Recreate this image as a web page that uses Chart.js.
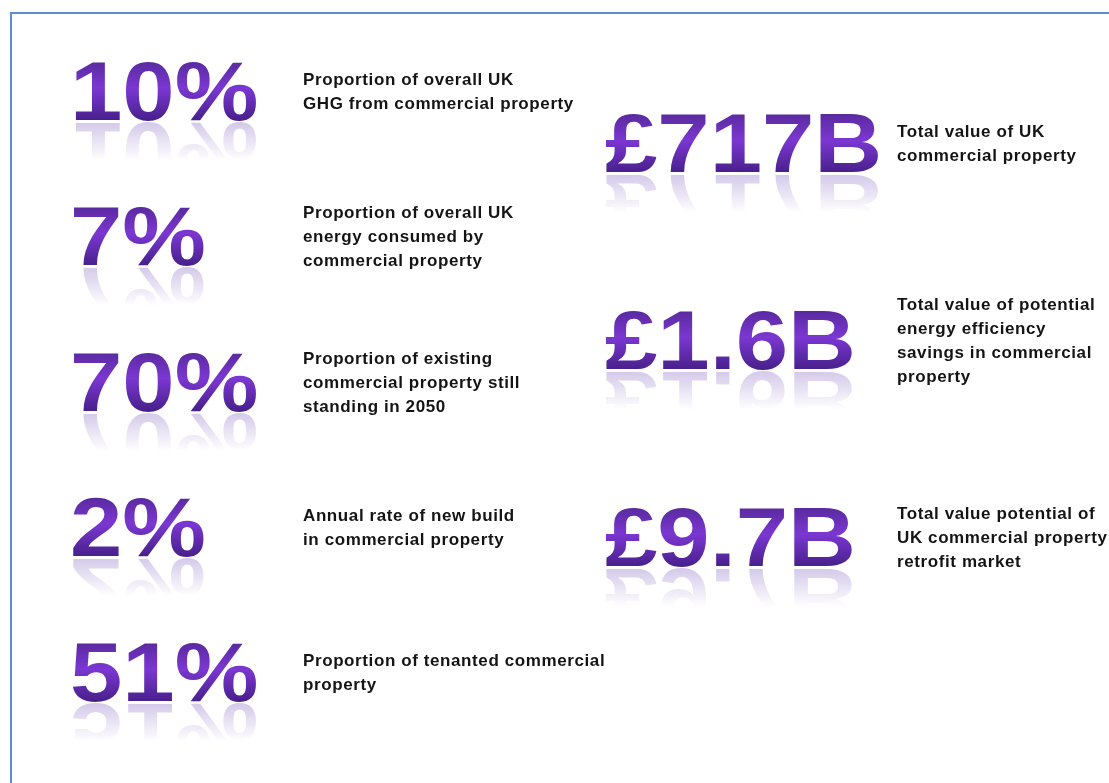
<!DOCTYPE html>
<html>
<head>
<meta charset="utf-8">
<script src="https://cdn.jsdelivr.net/npm/chart.js@4"></script>
<style>
  html, body { margin: 0; padding: 0; background: #fff; overflow: hidden; }
  #wrap { position: relative; width: 1109px; height: 783px; }
  #frame {
    position: absolute; left: 10px; top: 12px; width: 1200px; height: 900px;
    border: 2px solid #5b8dd3; box-sizing: border-box;
  }
  canvas { position: absolute; left: 0; top: 0; }
</style>
</head>
<body>
<div id="wrap">
  <div id="frame"></div>
  <canvas id="stats" width="1109" height="783"></canvas>
</div>
<script>
// left column: headline figure + description lines
const leftFigures = ['10%', '7%', '70%', '2%', '51%'];
const leftNotes = [
  ['Proportion of overall UK', 'GHG from commercial property'],
  ['Proportion of overall UK', 'energy consumed by', 'commercial property'],
  ['Proportion of existing', 'commercial property still', 'standing in 2050'],
  ['Annual rate of new build', 'in commercial property'],
  ['Proportion of tenanted commercial', 'property']
];

// right column
const rightFigures = ['£717B', '£1.6B', '£9.7B'];
const rightNotes = [
  ['Total value of UK', 'commercial property'],
  ['Total value of potential', 'energy efficiency', 'savings in commercial', 'property'],
  ['Total value potential of', 'UK commercial property', 'retrofit market']
];

const figFont = 'bold 84px "Liberation Sans"';
const figStretch = 1.12;
const noteFont = 'bold 17px "Liberation Sans"';

const statsPlugin = {
  id: 'stats',
  afterDatasetsDraw(chart) {
    const ctx = chart.ctx;
    chart.data.datasets.forEach((ds, di) => {
      const meta = chart.getDatasetMeta(di);
      meta.data.forEach((pt, i) => {
        const x = pt.x, base = pt.y;
        const fig = ds.figures[i];
        ctx.save();
        ctx.font = figFont;
        ctx.textBaseline = 'alphabetic';
        ctx.textAlign = 'left';
        const cap = ctx.measureText('H').actualBoundingBoxAscent;
        // figure with purple gradient
        ctx.save();
        ctx.translate(x, base);
        ctx.scale(figStretch, 1);
        let g = ctx.createLinearGradient(0, -cap, 0, 0);
        g.addColorStop(0, '#5a2aa0');
        g.addColorStop(0.45, '#7b37d2');
        g.addColorStop(1, '#48208c');
        ctx.fillStyle = g;
        ctx.fillText(fig, 0, 0);
        ctx.restore();
        // faded reflection
        ctx.save();
        ctx.translate(x, base + 3);
        ctx.scale(figStretch, -1);
        let r = ctx.createLinearGradient(0, 0, 0, -cap * 0.65);
        r.addColorStop(0, 'rgba(115,80,185,0.3)');
        r.addColorStop(1, 'rgba(115,80,185,0)');
        ctx.fillStyle = r;
        ctx.fillText(fig, 0, 0);
        ctx.restore();
        // description, centred on the figure
        const lines = ds.notes[i];
        const lh = 24;
        const mid = base - cap / 2;
        let y0 = mid - (lines.length - 1) * lh / 2 + 6;
        ctx.font = noteFont;
        ctx.letterSpacing = '0.6px';
        ctx.fillStyle = '#141414';
        lines.forEach((ln, k) => ctx.fillText(ln, x + ds.noteGap, y0 + k * lh));
        ctx.restore();
      });
    });
  }
};

new Chart(document.getElementById('stats'), {
  type: 'scatter',
  data: {
    datasets: [
      {
        label: 'left',
        data: leftFigures.map((f, i) => ({ x: 0, y: i })),
        figures: leftFigures,
        notes: leftNotes,
        noteGap: 233,
        yAxisID: 'y',
        pointRadius: 0
      },
      {
        label: 'right',
        data: rightFigures.map((f, i) => ({ x: 1, y: i })),
        figures: rightFigures,
        notes: rightNotes,
        noteGap: 292,
        yAxisID: 'y2',
        pointRadius: 0
      }
    ]
  },
  plugins: [statsPlugin],
  options: {
    responsive: false,
    animation: false,
    events: [],
    layout: { padding: { left: 70, right: 504, top: 120, bottom: 82 } },
    plugins: { legend: { display: false }, tooltip: { enabled: false } },
    scales: {
      x: { type: 'linear', min: 0, max: 1, display: false },
      y: { type: 'linear', min: 0, max: 4, reverse: true, display: false },
      y2: { type: 'linear', min: -0.2653, max: 2.685, reverse: true, display: false }
    }
  }
});
</script>
</body>
</html>
